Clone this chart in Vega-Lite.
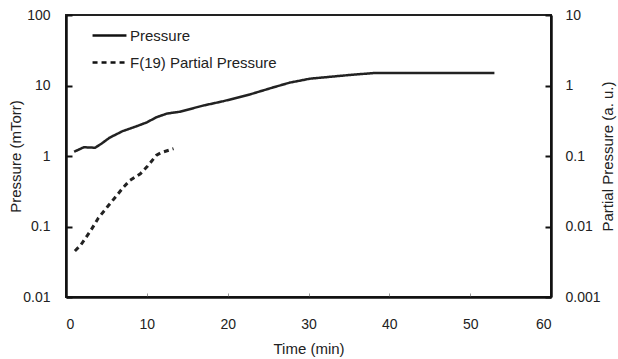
{
  "$schema": "https://vega.github.io/schema/vega-lite/v6.json",
  "width": 485,
  "height": 282,
  "autosize": {"type": "none"},
  "padding": {"left": 66, "top": 15, "right": 67, "bottom": 62},
  "background": "white",
  "config": {
    "font": "Liberation Sans",
    "view": {"stroke": "#222", "strokeWidth": 2},
    "axis": {"grid": false, "domainColor": "#111", "domainWidth": 2.5, "labelFontSize": 14, "titleFontSize": 15, "titleFontWeight": "normal", "labelColor": "#222", "titleColor": "#222", "tickColor": "#111", "tickWidth": 2}
  },
  "data": {
    "values": [
      {"series": "Pressure", "t": 1.0, "v": 1.15},
      {"series": "Pressure", "t": 1.7, "v": 1.25},
      {"series": "Pressure", "t": 2.2, "v": 1.33},
      {"series": "Pressure", "t": 3.0, "v": 1.32},
      {"series": "Pressure", "t": 3.6, "v": 1.31},
      {"series": "Pressure", "t": 4.4, "v": 1.5},
      {"series": "Pressure", "t": 5.4, "v": 1.82},
      {"series": "Pressure", "t": 7.0, "v": 2.25},
      {"series": "Pressure", "t": 8.8, "v": 2.66},
      {"series": "Pressure", "t": 10.0, "v": 3.0},
      {"series": "Pressure", "t": 11.2, "v": 3.55},
      {"series": "Pressure", "t": 12.5, "v": 4.0},
      {"series": "Pressure", "t": 14.1, "v": 4.25},
      {"series": "Pressure", "t": 17.0, "v": 5.2},
      {"series": "Pressure", "t": 19.5, "v": 6.0},
      {"series": "Pressure", "t": 22.8, "v": 7.5},
      {"series": "Pressure", "t": 25.5, "v": 9.3},
      {"series": "Pressure", "t": 27.7, "v": 11.0},
      {"series": "Pressure", "t": 30.2, "v": 12.5},
      {"series": "Pressure", "t": 35.1, "v": 14.1},
      {"series": "Pressure", "t": 38.0, "v": 15.0},
      {"series": "Pressure", "t": 45.0, "v": 15.0},
      {"series": "Pressure", "t": 53.0, "v": 15.0},
      {"series": "F(19) Partial Pressure", "t": 1.1, "v": 0.0045},
      {"series": "F(19) Partial Pressure", "t": 1.8, "v": 0.0054},
      {"series": "F(19) Partial Pressure", "t": 3.1, "v": 0.0089},
      {"series": "F(19) Partial Pressure", "t": 4.0, "v": 0.0132},
      {"series": "F(19) Partial Pressure", "t": 5.2, "v": 0.0195},
      {"series": "F(19) Partial Pressure", "t": 6.1, "v": 0.026},
      {"series": "F(19) Partial Pressure", "t": 7.1, "v": 0.036},
      {"series": "F(19) Partial Pressure", "t": 7.9, "v": 0.045},
      {"series": "F(19) Partial Pressure", "t": 9.2, "v": 0.056},
      {"series": "F(19) Partial Pressure", "t": 10.1, "v": 0.072},
      {"series": "F(19) Partial Pressure", "t": 11.2, "v": 0.103},
      {"series": "F(19) Partial Pressure", "t": 11.8, "v": 0.112},
      {"series": "F(19) Partial Pressure", "t": 13.3, "v": 0.127}
    ]
  },
  "encoding": {
    "x": {"field": "t", "type": "quantitative", "scale": {"domain": [0, 60], "nice": false, "zero": false},
      "axis": {"title": "Time (min)", "values": [0, 10, 20, 30, 40, 50, 60], "tickSize": -4, "tickColor": "#999", "tickWidth": 1, "labelPadding": 24, "titlePadding": 10}},
    "strokeDash": {"field": "series", "type": "nominal",
      "scale": {"domain": ["Pressure", "F(19) Partial Pressure"], "range": [[1, 0], [5, 4]]},
      "legend": {"title": null, "orient": "none", "legendX": 25, "legendY": 2, "symbolType": "stroke", "symbolSize": 1150, "symbolStrokeWidth": 2.5, "symbolStrokeColor": "#111", "labelFontSize": 15, "labelColor": "#222", "labelOffset": 2, "rowPadding": -4, "padding": 0}}
  },
  "layer": [
    {
      "transform": [{"filter": "datum.series === 'Pressure'"}],
      "mark": {"type": "line", "color": "#222", "strokeWidth": 2.5},
      "encoding": {
        "y": {"field": "v", "type": "quantitative", "scale": {"type": "log", "domain": [0.01, 100], "nice": false},
          "axis": {"title": "Pressure (mTorr)", "orient": "left", "values": [0.01, 0.1, 1, 10, 100], "format": "~g", "tickSize": -6, "labelPadding": 22, "titlePadding": -1}}
      }
    },
    {
      "transform": [{"filter": "datum.series === 'F(19) Partial Pressure'"}],
      "mark": {"type": "line", "color": "#222", "strokeWidth": 3},
      "encoding": {
        "y": {"field": "v", "type": "quantitative", "scale": {"type": "log", "domain": [0.001, 10], "nice": false},
          "axis": {"title": "Partial Pressure (a. u.)", "orient": "right", "titleAngle": 270, "values": [0.001, 0.01, 0.1, 1, 10], "format": "~g", "tickSize": -6, "labelPadding": 20, "titlePadding": 15}}
      }
    }
  ],
  "resolve": {"scale": {"y": "independent"}}
}
